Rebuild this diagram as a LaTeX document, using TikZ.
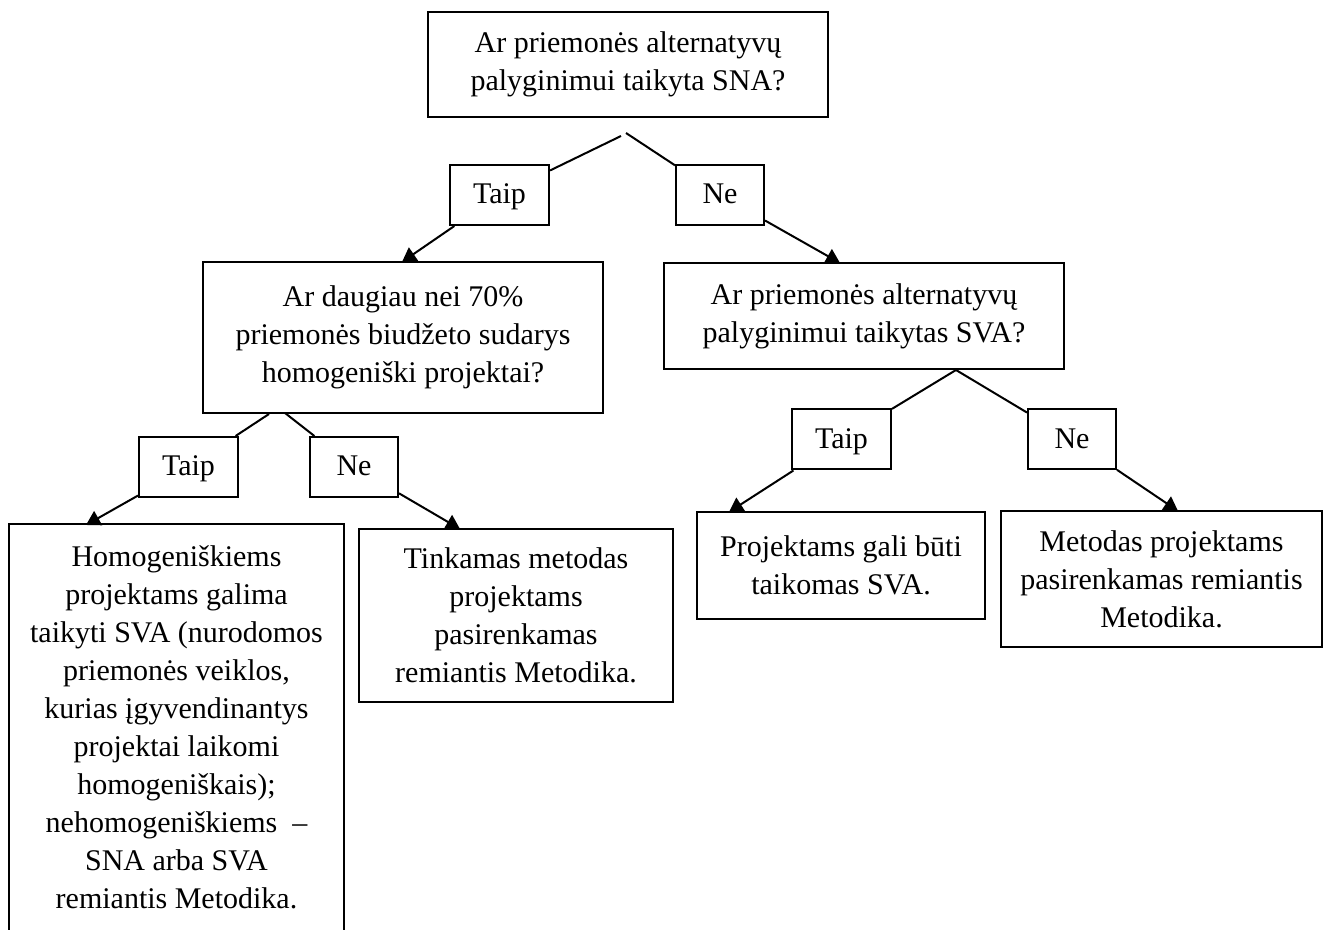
\documentclass[tikz,border=0pt]{standalone}
\usepackage{fontspec}
\setmainfont{Liberation Serif}
\usetikzlibrary{arrows.meta}

\begin{document}
\begin{tikzpicture}[x=0.5pt, y=-0.5pt, line width=1pt,
                    every node/.style={font=\fontsize{15}{19}\selectfont, align=center, inner sep=2pt},
                    question node/.style={rectangle, draw, minimum width=200pt},
                    answer node/.style={rectangle, draw, minimum height=30pt, text height=11pt, text depth=2pt},
                    leaf node/.style={rectangle, draw},
                    arr/.style={-{Triangle[width=8pt,length=7pt]}}]

  \clip (0,0) rectangle (1324,930);

  \node[question node, minimum height=52.5pt] (q0) at (628,64.5) {Ar priemonės alternatyvų\\palyginimui taikyta SNA?};
  \node[answer node, minimum width=49.5pt] (taip1) at (499.5,195) {Taip};
  \node[answer node, minimum width=44pt] (ne1) [node distance=110.25pt, right of=taip1] {Ne};

  \node[question node, minimum height=75.5pt] (qL) at (403,337.5) {Ar daugiau nei 70\%\\priemonės biudžeto sudarys\\homogeniški projektai?};
  \node[question node, minimum height=53pt] (qR) at (864,316) {Ar priemonės alternatyvų\\palyginimui taikytas SVA?};

  \node[answer node, minimum width=49.5pt] (taip2) at (188.5,467) {Taip};
  \node[answer node, minimum width=44pt] (ne2) [node distance=82.75pt, right of=taip2] {Ne};
  \node[answer node, minimum width=49.5pt] (taip3) at (841.5,439.5) {Taip};
  \node[answer node, minimum width=44pt] (ne3) [node distance=115.25pt, right of=taip3] {Ne};

  \node[minimum width=166.5pt, minimum height=202.5pt] (leaf1) at (176.5,727.5)
    {Homogeniškiems\\projektams galima\\taikyti SVA (nurodomos\\priemonės veiklos,\\kurias įgyvendinantys\\projektai laikomi\\homogeniškais);\\nehomogeniškiems\ \ –\\SNA arba SVA\\remiantis Metodika.};
  \node[leaf node, minimum width=157pt, minimum height=86.5pt] (leaf2) at (516,615.5) {Tinkamas metodas\\projektams\\pasirenkamas\\remiantis Metodika.};
  \node[leaf node, minimum width=144pt, minimum height=53.5pt] (leaf3) at (841,565.5) {Projektams gali būti\\taikomas SVA.};
  \node[leaf node, minimum width=160.5pt, minimum height=68pt] (leaf4) at (1161.5,579) {Metodas projektams\\pasirenkamas remiantis\\Metodika.};

  \draw (leaf1.south west) |- (leaf1.north east) -- (leaf1.south east);

  \coordinate (a0l) at (621,136);
  \coordinate (a0r) at (626,133);
  \coordinate (aLl) at (269,414);
  \coordinate (aLr) at (285,413);
  \coordinate (aR) at (956,370);
  \coordinate (tqL) at (402,262);
  \coordinate (tqR) at (840,263);
  \coordinate (tl1) at (86,525);
  \coordinate (tl2) at (460,529);
  \coordinate (tl3) at (729,512);
  \coordinate (tl4) at (1178,511);

  \draw (a0l) -- (taip1);
  \draw (a0r) -- (ne1);
  \draw[arr] (taip1) -- (tqL);
  \draw[arr] (ne1) -- (tqR);

  \draw (aLl) -- (taip2);
  \draw (aLr) -- (ne2);
  \draw[arr] (taip2) -- (tl1);
  \draw[arr] (ne2) -- (tl2);

  \draw (aR) -- (taip3);
  \draw (aR) -- (ne3);
  \draw[arr] (taip3) -- (tl3);
  \draw[arr] (ne3) -- (tl4);

\end{tikzpicture}
\end{document}
